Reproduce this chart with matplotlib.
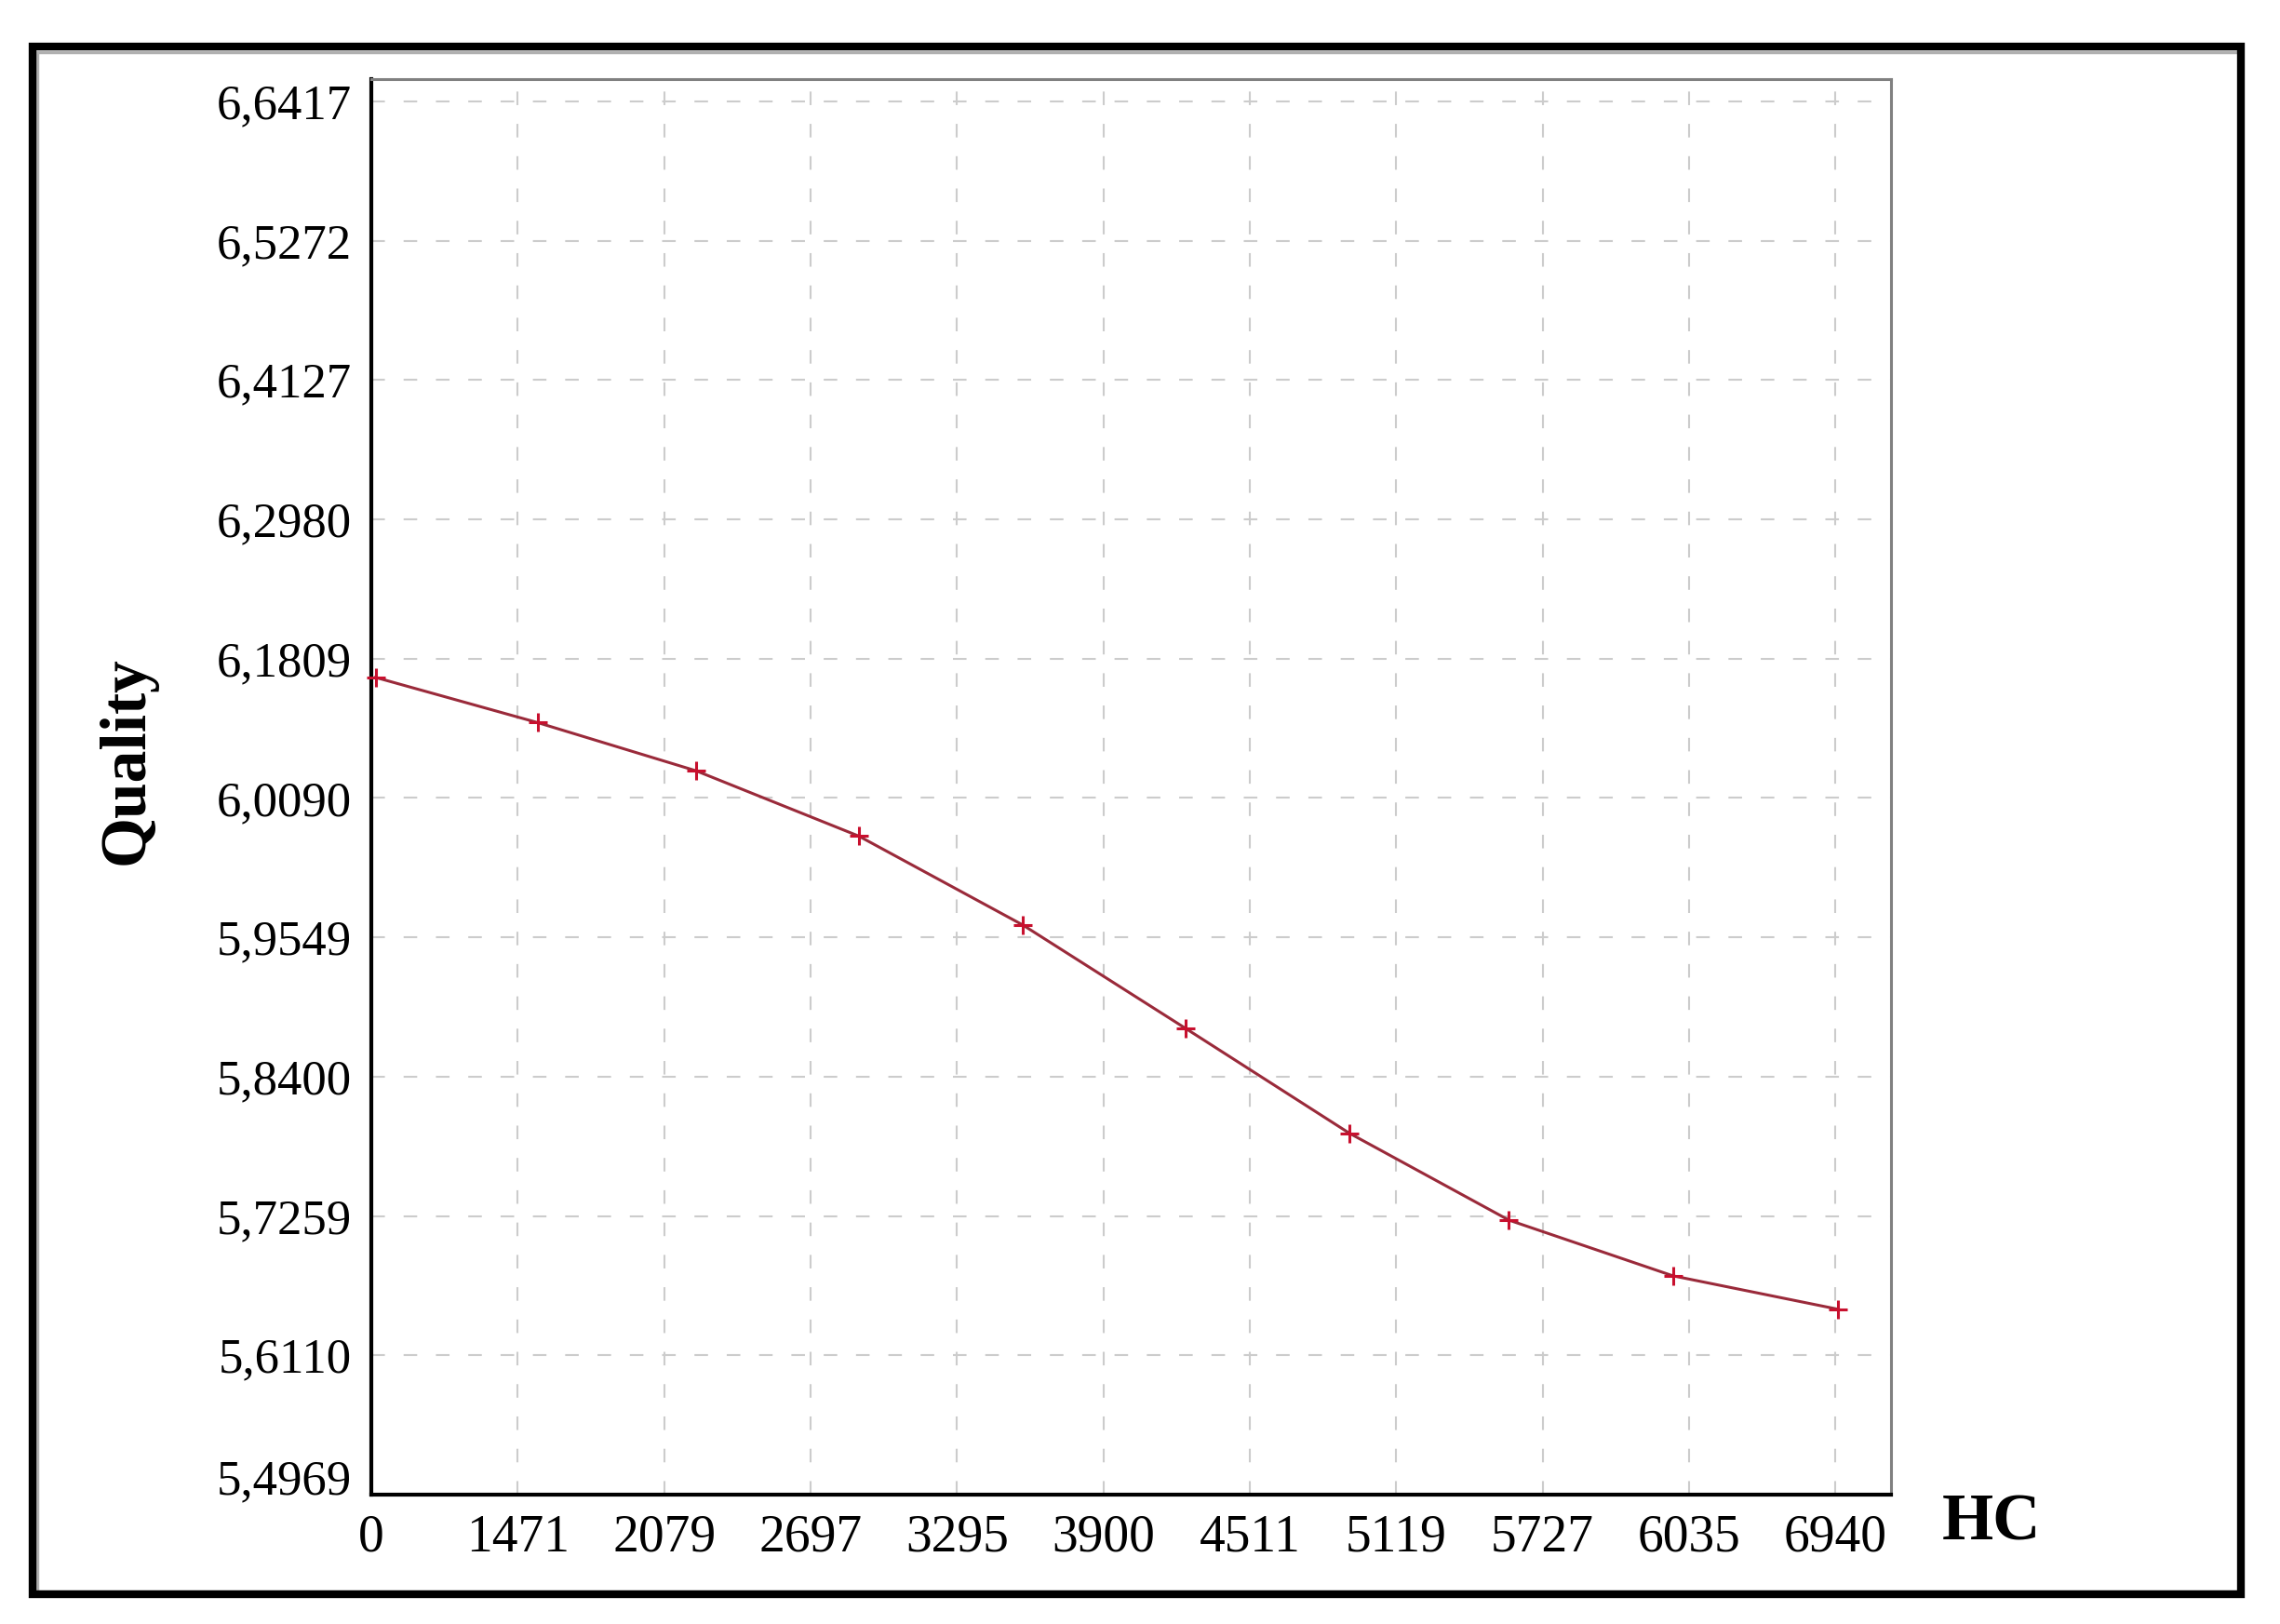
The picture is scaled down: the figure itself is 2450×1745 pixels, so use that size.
import numpy as np
import matplotlib
matplotlib.use("Agg")
import matplotlib.pyplot as plt
import matplotlib.transforms as mtransforms
from matplotlib.patches import Rectangle

# données
hc = [20, 788, 1539, 2311, 3088, 3860, 4636, 5392, 6170, 6954]
quality = [6.1684, 6.1313, 6.0917, 6.0380, 5.9650, 5.8800, 5.7939, 5.7225, 5.6767, 5.6492]

x_labels = ['0', '1471', '2079', '2697', '3295', '3900', '4511', '5119', '5727', '6035', '6940']
y_labels = ['5,4969', '5,6110', '5,7259', '5,8400', '5,9549', '6,0090',
            '6,1809', '6,2980', '6,4127', '6,5272', '6,6417']

plt.rcParams['font.family'] = ['Liberation Serif', 'DejaVu Serif']
plt.rcParams['lines.scale_dashes'] = False

W, H = 2450, 1745
fig = plt.figure(figsize=(W / 100, H / 100), dpi=100)
ax = fig.add_axes([399 / W, 1 - 1606 / H, (2032 - 399) / W, (1606 - 85) / H])

x_ticks = np.linspace(0, 6940, len(x_labels))
y_ticks = np.linspace(5.4969, 6.6417, len(y_labels))
y_step = y_ticks[1] - y_ticks[0]

ax.set_xlim(0, 6940 * 10.38 / 10)
ax.set_ylim(5.4969, 5.4969 + 10.16 * y_step)

ax.set_xticks(x_ticks)
ax.set_xticklabels(x_labels)
ax.set_yticks(y_ticks)
ax.set_yticklabels(y_labels)
ax.tick_params(axis='x', length=0, pad=15, labelsize=40)
ax.tick_params(axis='y', length=0, pad=15, labelsize=38)

# le dernier label (5,4969) est remonté dans l'original
lab = ax.get_yticklabels()[0]
lab.set_transform(lab.get_transform() + mtransforms.ScaledTranslation(0, 14 / 72, fig.dpi_scale_trans))

ax.grid(True, color='#cccccc', linewidth=1.5, linestyle=(0, (10.5, 14.5)))
ax.set_axisbelow(True)

for s in ['left', 'bottom']:
    ax.spines[s].set_color('black')
    ax.spines[s].set_linewidth(3)
for s in ['top', 'right']:
    ax.spines[s].set_color('#808080')
    ax.spines[s].set_linewidth(2.2)

ax.plot(hc, quality, color='#9a2a3a', linewidth=2.2, marker='+', markersize=14,
        markeredgewidth=2.2, markeredgecolor='#c8102e', clip_on=False, zorder=3)

fig.text(137 / W, 1 - 817 / H, 'Quality', rotation=90, ha='center', va='center',
         fontsize=50, fontweight='bold')
fig.text(2087 / W, 1 - 1637 / H, 'HC', ha='left', va='center', fontsize=51, fontweight='bold')

# cadre autour de la figure
fig.patches.append(Rectangle((40 / W, 1 - 1710 / H), (2406 - 40) / W, (1710 - 56) / H,
                             transform=fig.transFigure, fill=False, edgecolor='#b0b0b0',
                             linewidth=2.5))
fig.patches.append(Rectangle((35 / W, 1 - 1713 / H), (2408 - 35) / W, (1713 - 50) / H,
                             transform=fig.transFigure, fill=False, edgecolor='black',
                             linewidth=6))

fig.savefig('out.png', dpi=100)
